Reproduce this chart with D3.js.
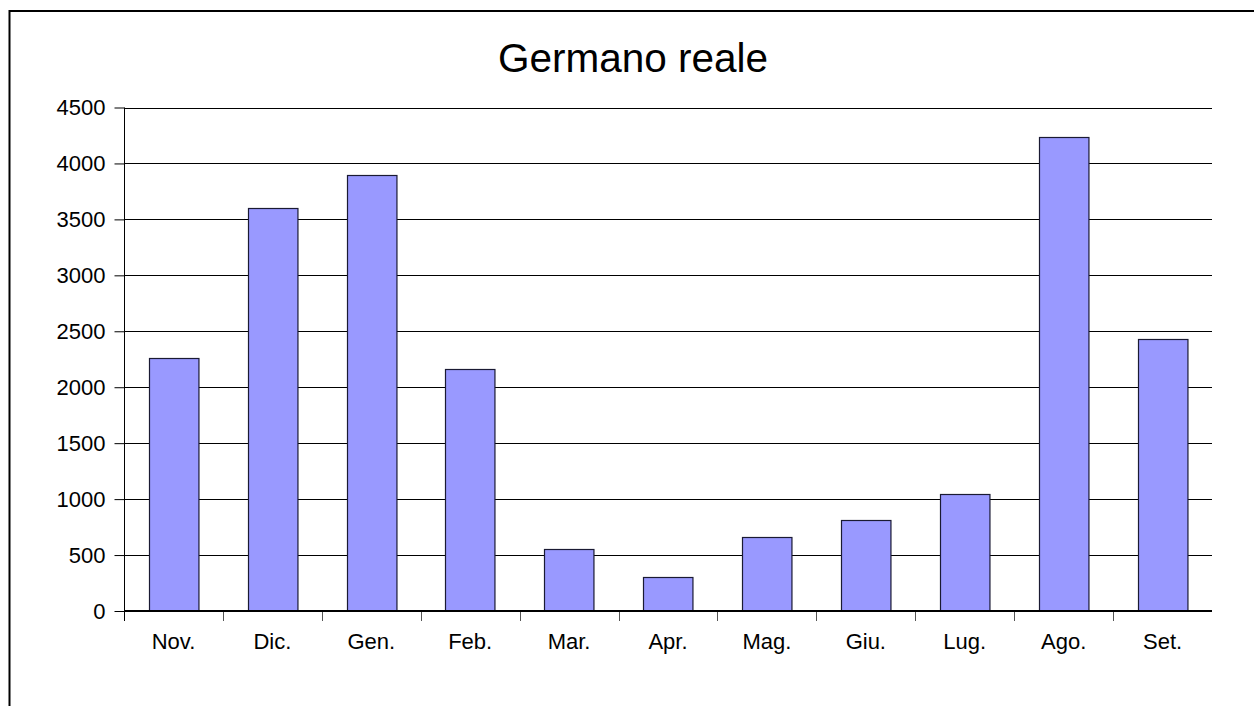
<!DOCTYPE html>
<html>
<head>
<meta charset="utf-8">
<script src="https://cdn.jsdelivr.net/npm/d3@7"></script>
<style>
  html, body { margin: 0; padding: 0; background: #fff; }
  svg { display: block; font-family: "Liberation Sans", Arial, sans-serif; }
</style>
</head>
<body>
<svg width="1254" height="706"></svg>
<script>
const months = ['Nov.', 'Dic.', 'Gen.', 'Feb.', 'Mar.', 'Apr.', 'Mag.', 'Giu.', 'Lug.', 'Ago.', 'Set.'];
const counts = [2260, 3600, 3900, 2160, 550, 300, 660, 810, 1050, 4240, 2430];
const yTicks = [0, 500, 1000, 1500, 2000, 2500, 3000, 3500, 4000, 4500];
const title = 'Germano reale';

const svg = d3.select('svg');
const plot = {left: 124, right: 1212, top: 107.5, bottom: 611};

// outer frame, runs off the right and bottom edges
svg.append('rect')
  .attr('x', 9.5).attr('y', 11)
  .attr('width', 1300).attr('height', 800)
  .attr('fill', 'none')
  .attr('stroke', '#000')
  .attr('stroke-width', 2);

svg.append('text')
  .attr('x', 633).attr('y', 72)
  .attr('text-anchor', 'middle')
  .attr('font-size', 40.5)
  .attr('fill', '#000')
  .text(title);

const x = d3.scaleBand()
  .domain(months)
  .range([plot.left, plot.right])
  .paddingInner(0.5)
  .paddingOuter(0.25);

const y = d3.scaleLinear()
  .domain([0, 4500])
  .range([plot.bottom, plot.top]);

// gridlines
svg.append('g')
  .selectAll('line')
  .data(yTicks.filter(d => d > 0))
  .join('line')
  .attr('x1', plot.left).attr('x2', plot.right)
  .attr('y1', d => Math.round(y(d)) + 0.5)
  .attr('y2', d => Math.round(y(d)) + 0.5)
  .attr('stroke', '#000')
  .attr('stroke-width', 1);

// y axis
const yAxis = svg.append('g')
  .attr('transform', `translate(${plot.left + 0.5},0)`)
  .call(d3.axisLeft(y).tickValues(yTicks).tickSize(10).tickPadding(9).tickFormat(d3.format('d')));
yAxis.select('.domain').remove();
yAxis.selectAll('.tick line').attr('stroke', '#000');
yAxis.selectAll('.tick text')
  .attr('font-size', 22)
  .attr('font-family', '"Liberation Sans", Arial, sans-serif')
  .attr('fill', '#000');
svg.append('line')
  .attr('x1', plot.left + 0.5).attr('x2', plot.left + 0.5)
  .attr('y1', plot.top).attr('y2', plot.bottom + 10)
  .attr('stroke', '#000');

// bars
svg.append('g')
  .selectAll('rect')
  .data(months.map((m, i) => ({m, v: counts[i]})))
  .join('rect')
  .attr('x', d => Math.round(x(d.m)) + 0.5)
  .attr('y', d => Math.round(y(d.v)) + 0.5)
  .attr('width', x.bandwidth())
  .attr('height', d => plot.bottom - Math.round(y(d.v)) - 0.5)
  .attr('fill', '#9999ff')
  .attr('stroke', '#1a1a33')
  .attr('stroke-width', 1.2);

// x axis ticks between the bands (none at the right end)
const step = x.step();
const bounds = d3.range(1, months.length).map(i => plot.left + i * step);
svg.append('g')
  .selectAll('line')
  .data(bounds)
  .join('line')
  .attr('x1', d => Math.round(d) + 0.5).attr('x2', d => Math.round(d) + 0.5)
  .attr('y1', plot.bottom).attr('y2', plot.bottom + 10)
  .attr('stroke', '#555');

svg.append('line')
  .attr('x1', plot.left).attr('x2', plot.right)
  .attr('y1', plot.bottom).attr('y2', plot.bottom)
  .attr('stroke', '#000')
  .attr('stroke-width', 2);

svg.append('g')
  .selectAll('text')
  .data(months)
  .join('text')
  .attr('x', d => x(d) + x.bandwidth() / 2)
  .attr('y', 649)
  .attr('text-anchor', 'middle')
  .attr('font-size', 22)
  .attr('fill', '#000')
  .text(d => d);
</script>
</body>
</html>
